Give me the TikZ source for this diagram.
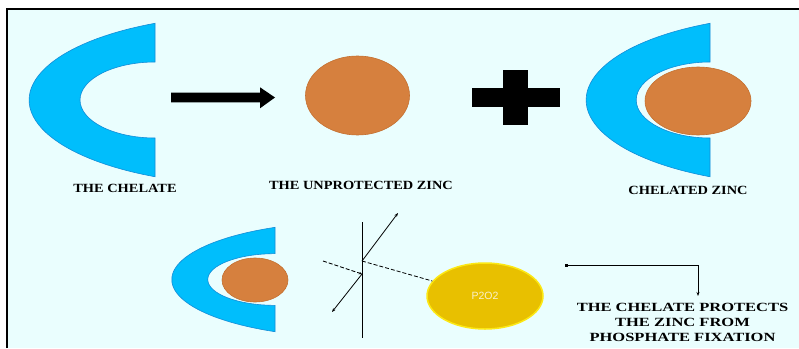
\documentclass[tikz,border=0pt]{standalone}
\usepackage{fontspec}
\setmainfont{Liberation Serif}
\newfontfamily\labfont[FakeStretch=1.15]{Liberation Serif}
\newfontfamily\protfont[FakeStretch=1.32]{Liberation Serif}
\newfontfamily\ellfont{Liberation Sans}
\usetikzlibrary{shapes.geometric,arrows.meta}
\definecolor{bgc}{RGB}{234,254,254}
\definecolor{cblue}{RGB}{0,190,252}
\definecolor{cedge}{RGB}{20,140,215}
\definecolor{orng}{RGB}{214,128,62}
\definecolor{orngedge}{RGB}{196,112,48}
\definecolor{yfill}{RGB}{232,192,0}
\definecolor{yedge}{RGB}{252,232,20}
\definecolor{ytext}{RGB}{250,240,205}
\begin{document}
\begin{tikzpicture}[x=1pt,y=1pt,
  chel/.style={fill=cblue,draw=cedge,line width=0.6},
  zinc/.style={ellipse,fill=orng,draw=orngedge,line width=0.6,inner sep=0},
  lab/.style={font=\labfont\bfseries\fontsize{12.5}{15}\selectfont,inner sep=0},
  thinline/.style={line width=0.8,black},
  tipline/.style={line width=0.8,black,-{Stealth[length=4pt,width=3pt]}}]
\useasboundingbox (0,0) rectangle (799,-348);
\fill[bgc] (7,-9) rectangle (799,-348);
\draw[line width=2.2] (7,-348) -- (7,-9) -- (799,-9);
% chelate 1
\begin{scope}[shift={(155,-100)}]
\path[chel] (0,76.7) arc[start angle=115.5,end angle=244.5,x radius=221,y radius=85]
  -- (0,-38) arc[start angle=270,end angle=90,x radius=75,y radius=38] -- cycle;
\end{scope}
% big arrow
\fill[black] (171,-92.6) -- (260,-92.6) -- (260,-87.3) -- (275,-97.5) -- (260,-108.3) -- (260,-102.3) -- (171,-102.3) -- cycle;
% unprotected zinc
\node[zinc,minimum width=104,minimum height=79] (z1) at (357.5,-95.5) {};
% plus
\fill[black] (472,-88) rectangle (560,-107);
\fill[black] (503,-70) rectangle (528,-125);
% chelated zinc
\begin{scope}[shift={(710,-100)},xscale=0.984]
\path[chel] (0,76.7) arc[start angle=115.5,end angle=244.5,x radius=221,y radius=85]
  -- (0,-38) arc[start angle=270,end angle=90,x radius=75,y radius=38] -- cycle;
\end{scope}
\node[zinc,minimum width=106,minimum height=68] (z2) at (698,-101) {};
% labels
\node[lab] (l1) at (125,-188) {THE CHELATE};
\node[lab] (l2) at (361,-185) {THE UNPROTECTED ZINC};
\node[lab] (l3) at (688,-190) {CHELATED ZINC};
% bottom chelate
\begin{scope}[shift={(275,-279.5)},xscale=0.82,yscale=0.68]
\path[chel] (0,76.7) arc[start angle=115.5,end angle=244.5,x radius=221,y radius=85]
  -- (0,-38) arc[start angle=270,end angle=90,x radius=82,y radius=38] -- cycle;
\end{scope}
\node[zinc,minimum width=66,minimum height=44] (z3) at (255,-280) {};
% ray diagram
\coordinate (vt) at (362,-222);
\coordinate (vb) at (362,-338);
\coordinate (o1) at (362,-261);
\coordinate (o2) at (362,-274);
\coordinate (ur) at (398,-213);
\coordinate (dl) at (332,-312);
\coordinate (ds) at (323,-261);
\draw[thinline] (vt) -- (vb);
\draw[tipline] (o1) -- (ur);
\draw[tipline] (o2) -- (dl);
\draw[thinline,dashed,dash pattern=on 4pt off 2pt,-{Stealth[length=3pt,width=2.5pt]}] (ds) -- (o2);
\node[ellipse,fill=yfill,draw=yedge,line width=1.5,minimum width=116,minimum height=66,inner sep=0,
  font=\ellfont\fontsize{10.5}{12}\selectfont,text=ytext] (p) at (485,-296) {P2O2};
\draw[thinline,dashed,dash pattern=on 4pt off 2pt] (o1) -- (p);
% protects label
\node[font=\protfont\bfseries\fontsize{12.5}{15}\selectfont,align=center,inner sep=0] (prot) at (682.5,-322)
  {THE CHELATE PROTECTS\\THE ZINC FROM\\PHOSPHATE FIXATION};
\coordinate (cs) at (565,-265);
\coordinate (ce) at (698,-296);
\draw[line width=0.7,{Square[length=3pt,width=2.5pt]}-{Stealth[length=4pt,width=3pt]}] (cs) -| (ce);
\end{tikzpicture}
\end{document}
